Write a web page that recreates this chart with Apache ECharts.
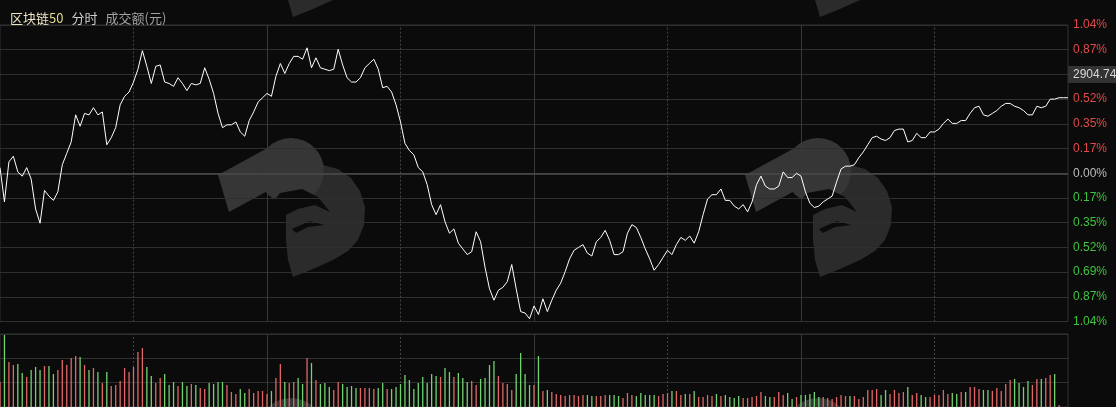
<!DOCTYPE html>
<html><head><meta charset="utf-8">
<script src="https://cdn.jsdelivr.net/npm/echarts@6/dist/echarts.min.js"></script>
<style>html,body{margin:0;padding:0;background:#0b0b0b;}#c{width:1116px;height:407px;}</style>
</head><body><div id="c"></div>
<script>
// ---- data ----
const title = '区块链';
const titleNum = '50';
const mode = '分时';
const volLabel = '成交额(元)';
const lastPrice = '2904.74';

// minute times 09:30-11:30, 13:01-15:00
const times = [];
(function(){
  function pad(n){return (n<10?'0':'')+n;}
  for (let m = 9*60+30; m <= 11*60+30; m++) times.push(pad(Math.floor(m/60))+':'+pad(m%60));
  for (let m = 13*60+1; m <= 15*60; m++) times.push(pad(Math.floor(m/60))+':'+pad(m%60));
})();

// change vs previous close, percent
const pricePct = [
 0.04,-0.20,0.08,0.12,0.01,-0.02,0.04,-0.04,-0.25,-0.35,
 -0.12,-0.16,-0.19,-0.13,0.06,0.14,0.22,0.41,0.33,0.42,
 0.41,0.46,0.41,0.43,0.20,0.25,0.32,0.48,0.54,0.57,
 0.64,0.73,0.86,0.75,0.63,0.75,0.76,0.64,0.63,0.61,
 0.67,0.63,0.58,0.63,0.62,0.63,0.74,0.66,0.56,0.42,
 0.32,0.34,0.34,0.36,0.29,0.26,0.37,0.43,0.50,0.53,
 0.56,0.54,0.68,0.77,0.70,0.77,0.82,0.82,0.80,0.88,
 0.74,0.81,0.74,0.73,0.72,0.73,0.87,0.76,0.67,0.64,
 0.64,0.67,0.74,0.77,0.80,0.73,0.60,0.61,0.57,0.48,
 0.36,0.21,0.16,0.13,0.04,0.01,-0.08,-0.22,-0.29,-0.22,
 -0.34,-0.42,-0.39,-0.49,-0.53,-0.57,-0.55,-0.41,-0.48,-0.66,
 -0.81,-0.89,-0.82,-0.80,-0.76,-0.64,-0.81,-0.97,-0.98,-1.02,
 -0.93,-0.99,-0.88,-0.97,-0.89,-0.82,-0.77,-0.69,-0.60,-0.54,
 -0.52,-0.50,-0.56,-0.58,-0.48,-0.45,-0.40,-0.47,-0.57,-0.57,
 -0.55,-0.42,-0.36,-0.38,-0.45,-0.53,-0.60,-0.68,-0.64,-0.59,
 -0.54,-0.57,-0.50,-0.45,-0.47,-0.44,-0.49,-0.41,-0.29,-0.18,
 -0.15,-0.15,-0.11,-0.19,-0.19,-0.23,-0.25,-0.22,-0.27,-0.20,
 -0.08,-0.02,-0.09,-0.11,-0.11,-0.09,0.01,-0.03,-0.03,0.00,
 -0.02,-0.13,-0.21,-0.24,-0.23,-0.20,-0.18,-0.16,-0.06,0.03,
 0.05,0.05,0.06,0.11,0.15,0.20,0.25,0.26,0.24,0.23,
 0.25,0.30,0.31,0.31,0.22,0.23,0.28,0.25,0.25,0.29,
 0.29,0.31,0.35,0.38,0.35,0.35,0.37,0.37,0.42,0.46,
 0.47,0.41,0.40,0.42,0.44,0.47,0.49,0.49,0.47,0.46,
 0.44,0.41,0.41,0.47,0.46,0.47,0.52,0.52,0.53,0.53,
 0.53
];

// turnover per minute (arbitrary units)
const volume = [
 2.5,7.2,4.5,4.2,4.3,3.4,3.0,3.7,4.0,3.7,
 4.1,4.1,3.3,3.7,4.7,4.2,4.9,5.1,5.0,4.2,
 3.7,3.9,3.5,2.4,3.5,2.1,2.2,2.6,3.9,3.5,
 4.0,5.5,5.9,4.0,3.1,2.4,2.9,3.3,2.2,2.5,
 2.1,2.5,2.1,2.3,2.2,1.9,1.8,2.4,2.3,2.5,
 2.5,2.2,1.5,1.3,1.8,1.4,1.8,1.4,1.6,1.6,
 1.3,1.6,2.9,4.3,2.5,2.4,2.5,2.9,2.3,4.9,
 4.4,2.7,2.3,2.4,2.0,1.7,2.5,2.3,2.0,2.1,
 1.9,1.9,1.9,1.9,1.8,1.9,2.4,1.8,1.8,2.0,
 2.3,3.2,2.7,1.8,2.4,3.0,2.4,3.3,3.1,3.0,
 3.9,3.5,3.0,3.4,2.9,2.5,2.6,2.2,2.8,2.9,
 4.2,4.6,3.1,2.4,2.3,1.7,3.3,5.4,3.3,2.2,
 2.2,5.1,1.6,1.7,1.5,1.3,1.2,1.1,1.2,1.2,
 1.1,1.2,1.2,1.1,1.1,1.1,1.2,1.2,1.2,1.1,
 0.9,1.4,1.2,1.1,1.4,1.2,1.2,1.2,1.1,1.3,
 1.4,1.6,1.6,1.2,1.3,1.3,1.6,1.0,1.0,1.2,
 1.1,1.3,1.1,1.2,1.0,0.9,1.1,0.9,0.9,1.0,
 1.1,1.5,1.1,1.0,1.0,1.5,1.2,1.4,0.8,1.0,
 1.2,1.2,1.3,1.5,1.0,1.0,0.9,0.8,1.0,1.2,
 1.1,1.1,1.1,0.8,1.0,1.7,1.7,1.8,1.2,1.7,
 1.3,1.7,1.4,1.5,2.0,1.2,1.4,1.2,1.0,1.0,
 1.2,1.2,1.7,1.3,1.4,1.3,1.5,1.5,2.0,2.0,
 1.8,1.7,1.7,1.6,1.9,1.6,2.3,2.7,2.8,2.4,
 2.0,2.6,2.2,2.8,2.8,2.9,3.2,3.3,0.2,0,
 0
];

// r = up minute, g = down minute
const volDir = (
 'rgrrggrggg'+'rggrrrrrgr'+'grgrgrrrrr'+'rrrggrrggg'+'rggrgrrggg'+
 'grrrggrrrr'+'rgrrgrrggr'+'grgggrrggg'+'grrrrggrgg'+'gggggggggr'+
 'ggrgggrrgg'+'ggrrrrgggg'+'rgrgrrrrrr'+'rrggrrrggg'+'rrrgggggrr'+
 'rgrrgrgrrr'+'rgrggggrrr'+'rrggrrrggr'+'gggggrrrrr'+'rgrrrrrrgg'+
 'rrrrgrrggr'+'rrrrggrgrr'+'rggrrrrrgg'+'ggrrgrrgrg'+'g'
).split('');

const yTicksMax = 1.04;   // % at top / bottom of the price panel
const volMax = 7.3;

// ---- chart ----
const RED = '#e04a4a', GREEN = '#3fc33f';
const BAR_RED = '#e06767', BAR_GREEN = '#72d272';
const GRID = '#2f2f2f';

function watermark(x, y) {
  return {
    type: 'group', x: x, y: y, silent: true,
    children: [
      { type: 'polygon', z: -5, shape: { points: [[70,50],[78,36],[90,30],[105,30],[120,34],[133,43],[142,56],[147,72],[146,90],[140,105],[130,116],[115,125],[95,134],[75,142],[70,125],[68,105],[68,80]] }, style: { fill: '#2b2b2b' } },
      { type: 'polygon', z: -5, shape: { points: [[0,40],[11,77],[77,41],[66,4]] }, style: { fill: '#363636' } },
      { type: 'circle', z: -5, shape: { cx: 73, cy: 36, r: 33 }, style: { fill: '#363636' } },
      { type: 'polygon', z: -5, shape: { points: [[48,76],[62,58],[84,54],[100,62],[112,77],[97,70],[80,74],[60,84]] }, style: { fill: '#0b0b0b' } },
      { type: 'polygon', z: -5, shape: { points: [[74,94],[92,86],[106,90],[90,92],[78,98]] }, style: { fill: '#0b0b0b' } }
    ]
  };
}

const vlines = [30,60,90,120,150,180,210].map(function(i){
  const solid = (i % 60 === 0);
  return { xAxis: times[i], lineStyle: { color: solid ? '#383838' : '#444', type: solid ? 'solid' : [2,2], width: 1 } };
});

const chart = echarts.init(document.getElementById('c'));
chart.setOption({
  animation: false,
  backgroundColor: '#0b0b0b',
  title: {
    left: 5, top: 4,
    text: '{a|' + title + '}{b|' + titleNum + '}  {c|' + mode + '}  {d|' + volLabel + '}',
    textStyle: {
      fontFamily: 'Noto Sans CJK SC', fontWeight: 'normal',
      rich: {
        a: { color: '#ece6c6', fontSize: 13, fontFamily: 'Noto Sans CJK SC', fontWeight: 'normal' },
        b: { color: '#e3da8c', fontSize: 13, fontFamily: 'Noto Sans CJK SC', fontWeight: 'normal' },
        c: { color: '#cfcfcf', fontSize: 13, fontFamily: 'Noto Sans CJK SC', fontWeight: 'normal' },
        d: { color: '#a2a2a2', fontSize: 13, fontFamily: 'Noto Sans CJK SC', fontWeight: 'normal' }
      }
    }
  },
  graphic: [
    watermark(218, -125), watermark(745, -125),
    watermark(218, 135), watermark(745, 135),
    watermark(218, 395), watermark(745, 395),
    { type: 'rect', z: 100, zlevel: 1, shape: { x: 1068, y: 66, width: 50, height: 17 }, style: { fill: '#333333' } },
    { type: 'text', z: 101, zlevel: 1, x: 1073, y: 74.5, style: { text: lastPrice, fill: '#d8d8d8', font: '12px "Liberation Sans", Arial', verticalAlign: 'middle' } }
  ],
  grid: [
    { left: 0, right: 48, top: 25, height: 296.6, show: true, borderColor: '#333', borderWidth: 1, backgroundColor: 'transparent' },
    { left: 0, right: 48, top: 334, height: 73, show: true, borderColor: '#333', borderWidth: 1, backgroundColor: 'transparent' }
  ],
  xAxis: [
    { type: 'category', gridIndex: 0, data: times, boundaryGap: false, axisLine: { show: false }, axisTick: { show: false }, axisLabel: { show: false }, splitLine: { show: false } },
    { type: 'category', gridIndex: 1, data: times, boundaryGap: false, axisLine: { show: false }, axisTick: { show: false }, axisLabel: { show: false }, splitLine: { show: false } }
  ],
  yAxis: [
    { type: 'value', gridIndex: 0, position: 'right', min: -yTicksMax, max: yTicksMax, interval: yTicksMax / 6,
      axisLine: { show: false }, axisTick: { show: false },
      splitLine: { show: true, lineStyle: { color: GRID, width: 1 } },
      axisLabel: {
        margin: 5, fontSize: 12, fontFamily: '"Liberation Sans", Arial',
        formatter: function (v) { return Math.abs(v).toFixed(2) + '%'; },
        color: function (v) { v = Number(v); return Math.abs(v) < 1e-6 ? '#bdbdbd' : (v > 0 ? RED : GREEN); }
      }
    },
    { type: 'value', gridIndex: 1, position: 'right', min: 0, max: volMax, interval: volMax / 3,
      axisLine: { show: false }, axisTick: { show: false }, axisLabel: { show: false },
      splitLine: { show: true, lineStyle: { color: GRID, width: 1 } }
    }
  ],
  series: [
    { type: 'line', xAxisIndex: 0, yAxisIndex: 0, data: pricePct, showSymbol: false, symbol: 'none', silent: true,
      lineStyle: { color: '#ffffff', width: 1 }, z: 5,
      markLine: { silent: true, symbol: 'none', label: { show: false }, z: 1,
        data: vlines.concat([{ yAxis: 0, lineStyle: { color: '#4c4c4c', width: 1.5, type: 'solid' } }]) }
    },
    { type: 'bar', xAxisIndex: 1, yAxisIndex: 1, barWidth: 1.3, silent: true,
      data: volume.map(function (v, i) { return { value: v, itemStyle: { color: volDir[i] === 'r' ? BAR_RED : BAR_GREEN } }; }),
      markLine: { silent: true, symbol: 'none', label: { show: false }, z: 1, data: vlines }
    }
  ]
});
</script>
</body></html>
